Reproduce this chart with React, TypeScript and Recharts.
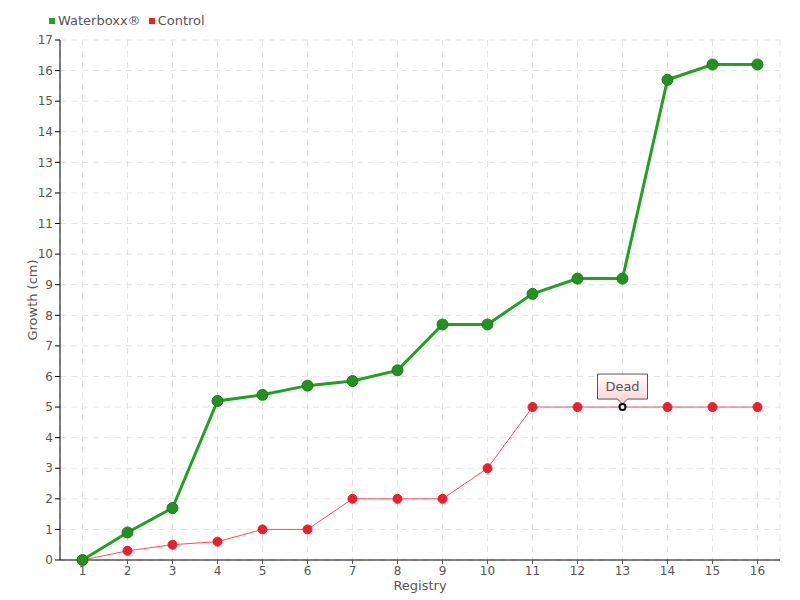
import { CartesianGrid, Line, LineChart, XAxis, YAxis, Label } from "recharts";

const registry = ["1", "2", "3", "4", "5", "6", "7", "8", "9", "10", "11", "12", "13", "14", "15", "16"];
const waterboxx = [0, 0.9, 1.7, 5.2, 5.4, 5.7, 5.85, 6.2, 7.7, 7.7, 8.7, 9.2, 9.2, 15.7, 16.2, 16.2];
const control = [0, 0.3, 0.5, 0.6, 1, 1, 2, 2, 2, 3, 5, 5, 5, 5, 5, 5];
const yTicks = [0, 1, 2, 3, 4, 5, 6, 7, 8, 9, 10, 11, 12, 13, 14, 15, 16, 17];
const deadIndex = 12;
const deadLabel = "Dead";

const data = registry.map((r, i) => ({ registry: r, waterboxx: waterboxx[i], control: control[i] }));

const font = "'DejaVu Sans', sans-serif";
const tickStyle = { fill: "#555", fontSize: 12, fontFamily: font };

function ControlDot(props: any) {
  const { cx, cy, index } = props;
  if (cx == null || cy == null) return null;
  if (index === deadIndex) {
    return (
      <g>
        <path
          d={`M${cx - 25},${cy - 33} h50 v25 h-20 l-5,5 l-5,-5 h-20 z`}
          fill="url(#deadFill)"
          stroke="#555"
          strokeWidth={1}
        />
        <text x={cx} y={cy - 16} textAnchor="middle" fontSize={13} fontFamily={font} fill="#555">
          {deadLabel}
        </text>
        <circle cx={cx} cy={cy} r={3} fill="#fff" stroke="#000" strokeWidth={2} />
      </g>
    );
  }
  return <circle cx={cx} cy={cy} r={4.5} fill="#e8202c" stroke="#e8202c" strokeWidth={1} />;
}

export default function App() {
  return (
    <div style={{ position: "absolute", left: 0, top: 0, width: 800, height: 600, background: "#fff" }}>
      <div
        style={{
          position: "absolute",
          left: 49,
          top: 13,
          fontFamily: font,
          fontSize: 13,
          color: "#555",
          display: "flex",
          alignItems: "center",
          gap: 8,
        }}
      >
        <span style={{ display: "flex", alignItems: "center", gap: 3 }}>
          <span style={{ width: 6, height: 6, background: "#22a022", display: "inline-block" }} />
          Waterboxx®
        </span>
        <span style={{ display: "flex", alignItems: "center", gap: 3 }}>
          <span style={{ width: 6, height: 6, background: "#e8202c", display: "inline-block" }} />
          Control
        </span>
      </div>
      <LineChart width={800} height={600} data={data} margin={{ top: 40, right: 20, bottom: 10, left: 0 }}>
        <defs>
          <linearGradient id="deadFill" x1="0" x2="0" y1="0" y2="1">
            <stop offset="0%" stopColor="#ffffff" />
            <stop offset="100%" stopColor="#fbd0d0" />
          </linearGradient>
        </defs>
        <CartesianGrid stroke="#e3e3e3" strokeDasharray="6 5" />
        <XAxis
          dataKey="registry"
          padding={{ left: 22.5, right: 22.5 }}
          height={30}
          stroke="#000"
          tick={tickStyle}
          tickLine={{ stroke: "#555" }}
          tickSize={4}
          interval={0}
        >
          <Label
            value="Registry"
            position="insideBottom"
            offset={0}
            style={{ fill: "#555", fontSize: 13, fontFamily: font }}
          />
        </XAxis>
        <YAxis
          width={60}
          domain={[0, 17]}
          ticks={yTicks}
          interval={0}
          stroke="#000"
          tick={tickStyle}
          tickLine={{ stroke: "#000" }}
          tickSize={5}
        >
          <Label
            value="Growth (cm)"
            angle={-90}
            position="insideLeft"
            offset={32}
            style={{ fill: "#555", fontSize: 13, fontFamily: font, textAnchor: "middle" }}
          />
        </YAxis>
        <Line
          dataKey="control"
          stroke="#ff4a58"
          strokeWidth={1}
          dot={<ControlDot />}
          activeDot={false}
          isAnimationActive={false}
        />
        <Line
          dataKey="waterboxx"
          stroke="#22a022"
          strokeWidth={3}
          dot={{ r: 5.5, fill: "#22911f", stroke: "#1c7a1a", strokeWidth: 1 }}
          activeDot={false}
          isAnimationActive={false}
        />
      </LineChart>
    </div>
  );
}
